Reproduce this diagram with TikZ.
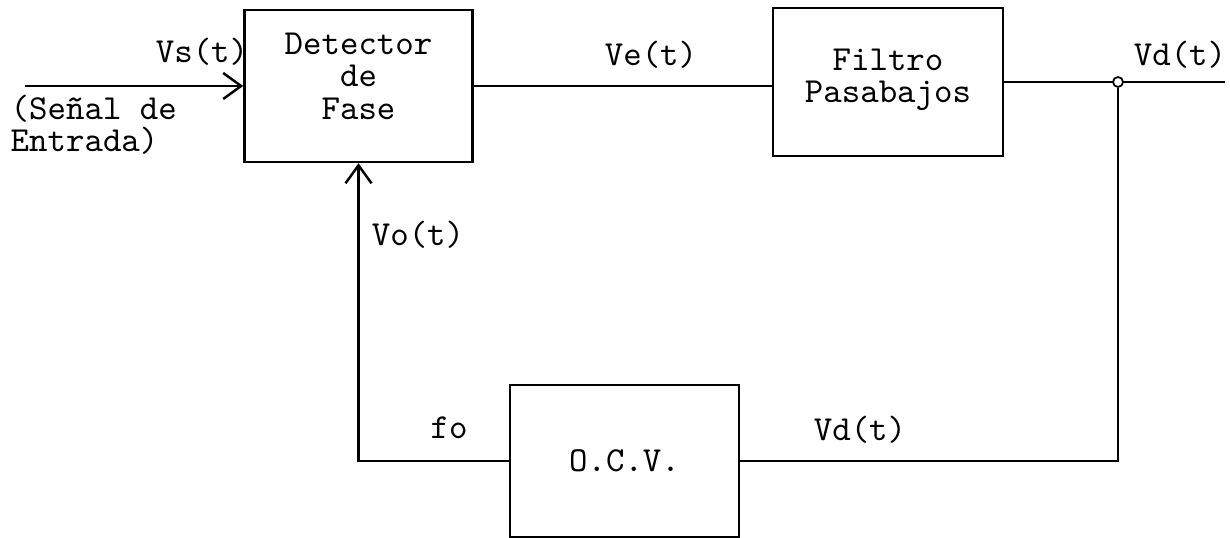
\documentclass[tikz,border=0pt]{standalone}
\usetikzlibrary{arrows.meta, positioning}
\tikzset{
  every picture/.style={font=\ttfamily\fontsize{10pt}{9.2pt}\selectfont, line width=0.7pt},
  box/.style={draw, align=center, inner sep=2pt, minimum width=2.28cm, minimum height=1.5cm},
  arrow/.style={-{Straight Barb[length=1.8mm, width=2.6mm, line width=0.7pt]}},
  lab/.style={inner sep=1pt},
  junct/.style={circle, draw, fill=white, inner sep=0pt, minimum size=1mm, line width=0.5pt},
}

\begin{document}
\begin{tikzpicture}
  \useasboundingbox (0,0) rectangle (12.3,-5.38);
  \node[box, minimum height=1.52cm, text depth=0.2cm] (det) at (3.585,-0.86) {Detector\\de\\Fase};
  \node[box, minimum width=2.3cm, minimum height=1.48cm, text depth=0.12cm] (filt) at (8.88,-0.82) {Filtro\\Pasabajos};
  \node[box, minimum width=2.29cm, minimum height=1.52cm] (ocv) at (6.245,-4.61) {O.C.V.};
  \coordinate (in) at (0.25,-0.86);
  \coordinate (out) at (12.25,-0.82);
  \draw[arrow] (in) -- (det.west);
  \draw (det.east) -- (det.east -| filt.west);
  \draw (filt.east) -- (out);
  \node[junct] (j) at (11.18,-0.82) {};
  \draw (j) |- (ocv.east);
  \draw[arrow] (ocv.west) -| (det.south);
  \node[lab] (vs) at (2.02,-0.52) {Vs(t)};
  \node[lab, align=left, anchor=west] (senal) at (0.06,-1.25) {(Señal de\\Entrada)};
  \node[lab] (ve) at (6.51,-0.55) {Ve(t)};
  \node[lab] (vd) at (11.8,-0.55) {Vd(t)};
  \node[lab] (vo) at (4.18,-2.35) {Vo(t)};
  \node[lab] (fo) at (4.49,-4.28) {fo};
  \node[lab] (vdb) at (8.6,-4.30) {Vd(t)};
\end{tikzpicture}
\end{document}
